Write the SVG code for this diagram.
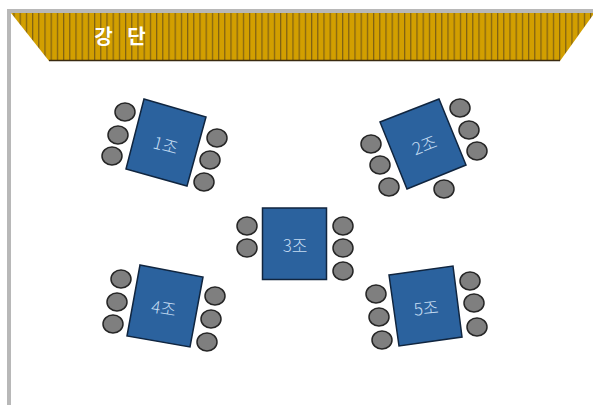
<svg xmlns="http://www.w3.org/2000/svg" width="593" height="405" viewBox="0 0 593 405">
<style>
.border{fill:#b8b8b8}
.table{fill:#2b629e;stroke:#10253f;stroke-width:1.5}
.chair{fill:#7f7f7f;stroke:#262626;stroke-width:1.5}
.lbl{font-family:"Noto Sans CJK KR","Liberation Sans",sans-serif;font-size:17px;font-weight:300;fill:#c4dcf2;text-anchor:middle;dominant-baseline:central}
.title{font-family:"Noto Sans CJK KR","Liberation Sans",sans-serif;font-size:20px;font-weight:700;fill:#fff;text-anchor:middle;dominant-baseline:central;word-spacing:10px}
</style>
<defs>
<pattern id="st" width="6.2" height="10" patternUnits="userSpaceOnUse" x="1">
<rect width="6.2" height="10" fill="#d29f00"/>
<rect x="0" width="1.2" height="10" fill="#7d5f14"/>
</pattern>
</defs>
<rect width="593" height="405" fill="#fff"/>
<g id="stage">
<rect class="border" x="7" y="9" width="586" height="4"/>
<rect class="border" x="7" y="9" width="4" height="396"/>
<polygon points="11,13 593,13 593,15 560,61 49,61" fill="url(#st)"/>
<line x1="49" y1="60.5" x2="560" y2="60.5" stroke="#3a2a10" stroke-width="1.5"/>
<text class="title" x="120" y="35">강 단</text>
</g>
<g id="connectors"></g>
<g id="team1">
<polygon class="table" points="144,99 206,117 187,186 126,169"/>
<ellipse class="chair" cx="125" cy="112" rx="10" ry="9"/><ellipse class="chair" cx="118" cy="135" rx="10" ry="9"/><ellipse class="chair" cx="112" cy="156" rx="10" ry="9"/>
<ellipse class="chair" cx="217" cy="138" rx="10" ry="9"/><ellipse class="chair" cx="210" cy="160" rx="10" ry="9"/><ellipse class="chair" cx="204" cy="182" rx="10" ry="9"/>
<text class="lbl" transform="translate(166,144) rotate(15)">1조</text>
</g>
<g id="team2">
<polygon class="table" points="439,99 380,122 407,189 466,165"/>
<ellipse class="chair" cx="460" cy="108" rx="10" ry="9"/><ellipse class="chair" cx="469" cy="130" rx="10" ry="9"/><ellipse class="chair" cx="477" cy="151" rx="10" ry="9"/>
<ellipse class="chair" cx="371" cy="144" rx="10" ry="9"/><ellipse class="chair" cx="380" cy="165" rx="10" ry="9"/><ellipse class="chair" cx="389" cy="187" rx="10" ry="9"/>
<ellipse class="chair" cx="444" cy="189" rx="10" ry="9"/>
<text class="lbl" transform="translate(424,144) rotate(-21)">2조</text>
</g>
<g id="team3">
<rect class="table" x="262.5" y="208" width="64" height="71.5"/>
<ellipse class="chair" cx="247" cy="226" rx="10" ry="9"/><ellipse class="chair" cx="247" cy="248" rx="10" ry="9"/>
<ellipse class="chair" cx="343" cy="226" rx="10" ry="9"/><ellipse class="chair" cx="343" cy="248" rx="10" ry="9"/><ellipse class="chair" cx="343" cy="271" rx="10" ry="9"/>
<text class="lbl" x="295" y="244">3조</text>
</g>
<g id="team4">
<polygon class="table" points="140,265 203,277 190,347 127,336"/>
<ellipse class="chair" cx="121" cy="279" rx="10" ry="9"/><ellipse class="chair" cx="117" cy="302" rx="10" ry="9"/><ellipse class="chair" cx="113" cy="324" rx="10" ry="9"/>
<ellipse class="chair" cx="215" cy="296" rx="10" ry="9"/><ellipse class="chair" cx="211" cy="319" rx="10" ry="9"/><ellipse class="chair" cx="207" cy="342" rx="10" ry="9"/>
<text class="lbl" transform="translate(164,307) rotate(9)">4조</text>
</g>
<g id="team5">
<polygon class="table" points="389,275 453,266 462,337 399,346"/>
<ellipse class="chair" cx="376" cy="294" rx="10" ry="9"/><ellipse class="chair" cx="379" cy="317" rx="10" ry="9"/><ellipse class="chair" cx="382" cy="340" rx="10" ry="9"/>
<ellipse class="chair" cx="470" cy="281" rx="10" ry="9"/><ellipse class="chair" cx="474" cy="303" rx="10" ry="9"/><ellipse class="chair" cx="477" cy="327" rx="10" ry="9"/>
<text class="lbl" transform="translate(426,307) rotate(-6)">5조</text>
</g>
</svg>
